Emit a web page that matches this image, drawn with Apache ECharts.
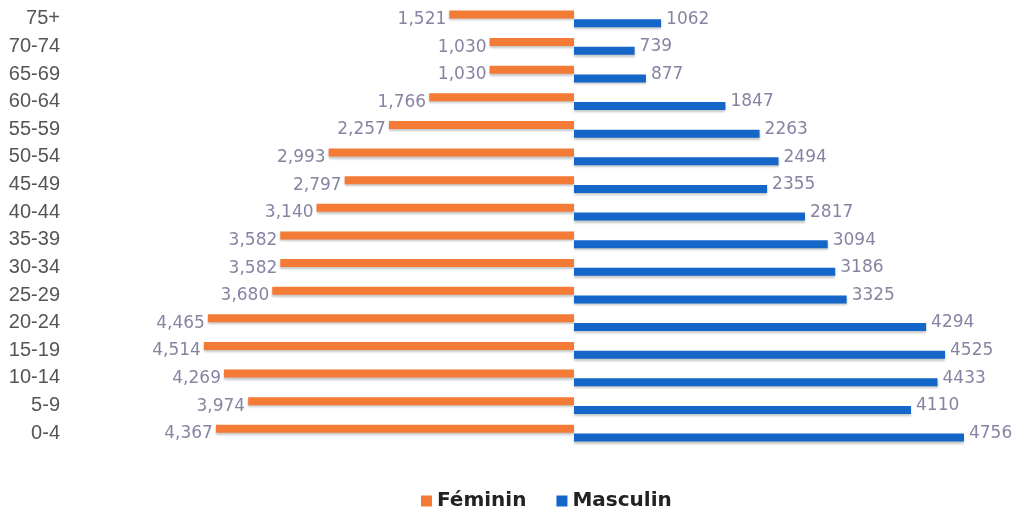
<!DOCTYPE html>
<html>
<head>
<meta charset="utf-8">
<script src="https://cdn.jsdelivr.net/npm/echarts@6/dist/echarts.min.js"></script>
<style>
  html, body { margin: 0; padding: 0; background: #fff; }
  #chart { width: 1022px; height: 517px; }
</style>
</head>
<body>
<div id="chart"></div>
<script>
// age groups, bottom to top
const ageGroups = ['0-4', '5-9', '10-14', '15-19', '20-24', '25-29', '30-34', '35-39',
  '40-44', '45-49', '50-54', '55-59', '60-64', '65-69', '70-74', '75+'];
const femaleValues = [4367, 3974, 4269, 4514, 4465, 3680, 3582, 3582,
  3140, 2797, 2993, 2257, 1766, 1030, 1030, 1521];
const maleValues = [4756, 4110, 4433, 4525, 4294, 3325, 3186, 3094,
  2817, 2355, 2494, 2263, 1847, 877, 739, 1062];

const labelColor = '#8585a3';
const barShadow = {
  shadowColor: 'rgba(0,0,0,0.22)',
  shadowBlur: 2,
  shadowOffsetY: 2
};

const chart = echarts.init(document.getElementById('chart'));
chart.setOption({
  animation: false,
  grid: {
    left: 164,
    right: 38,
    top: 5,
    bottom: 70,
    outerBoundsMode: 'none'
  },
  legend: {
    data: ['Féminin', 'Masculin'],
    left: 416,
    top: 486,
    itemWidth: 11,
    itemHeight: 11,
    itemGap: 30,
    icon: 'rect',
    textStyle: {
      fontFamily: 'DejaVu Sans',
      fontWeight: 'bold',
      fontSize: 20,
      color: '#222'
    }
  },
  xAxis: {
    type: 'value',
    min: -5000,
    max: 5000,
    show: false,
    splitLine: { show: false }
  },
  yAxis: {
    type: 'category',
    data: ageGroups,
    axisLine: { show: false },
    axisTick: { show: false },
    axisLabel: {
      margin: 104,
      fontFamily: 'Liberation Sans',
      fontSize: 20,
      color: '#555'
    }
  },
  series: [
    {
      name: 'Féminin',
      type: 'bar',
      data: femaleValues.map(v => -v),
      barWidth: 8,
      barGap: '8%',
      itemStyle: Object.assign({ color: '#f47b36' }, barShadow),
      label: {
        show: true,
        position: 'left',
        distance: 3,
        offset: [0, 5],
        fontFamily: 'DejaVu Sans',
        fontSize: 17,
        color: labelColor,
        formatter: p => Math.abs(p.value).toLocaleString('en-US')
      }
    },
    {
      name: 'Masculin',
      type: 'bar',
      data: maleValues,
      barWidth: 8,
      barGap: '8%',
      itemStyle: Object.assign({ color: '#1566c9' }, barShadow),
      label: {
        show: true,
        position: 'right',
        distance: 5,
        offset: [0, -4],
        fontFamily: 'DejaVu Sans',
        fontSize: 17,
        color: labelColor
      }
    }
  ]
});
</script>
</body>
</html>
